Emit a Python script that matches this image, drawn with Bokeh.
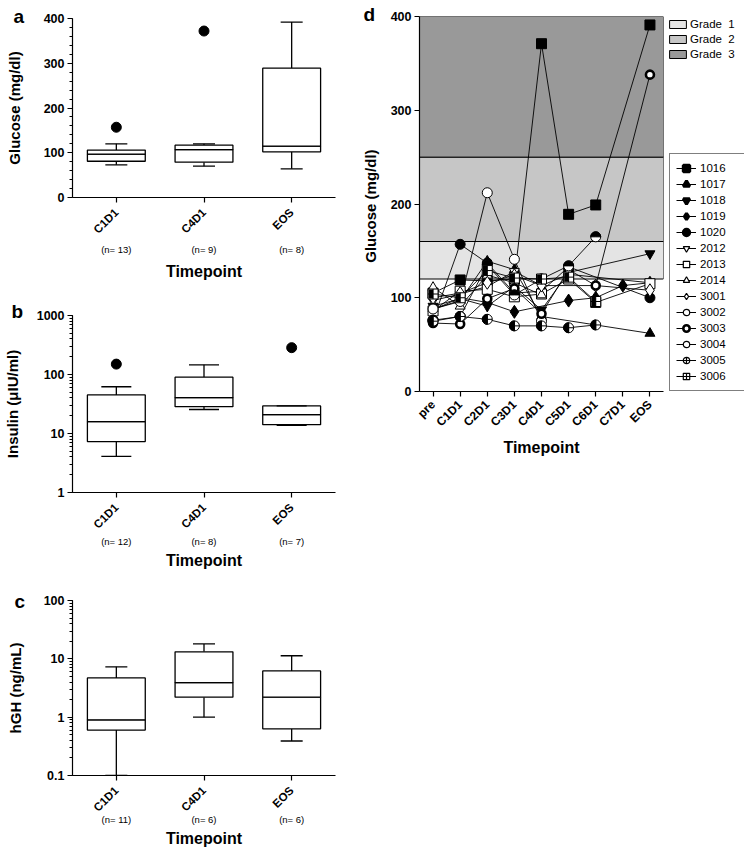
import math
from bokeh.plotting import figure
from bokeh.models import (FactorRange, Range1d, ColumnDataSource, CategoricalAxis, Legend,
                          LegendItem, SingleIntervalTicker, FixedTicker, BasicTickFormatter,
                          CustomJSTickFormatter)
from bokeh.layouts import row, column
from bokeh.transform import dodge
from bokeh.embed import file_html
from bokeh.resources import INLINE

FONT = "Liberation Sans"

# ---------------- data: box plots ----------------
box_cats = ["C1D1", "C4D1", "EOS"]

glu_n = ["(n= 13)", "(n= 9)", "(n= 8)"]
glu_low = [73, 70, 64]
glu_q1 = [81, 79, 102]
glu_med = [97, 107, 115]
glu_q3 = [106, 117, 289]
glu_high = [120, 120, 392]
glu_out_cat = ["C1D1", "C4D1"]
glu_out_val = [157, 372]

ins_n = ["(n= 12)", "(n= 8)", "(n= 7)"]
ins_low = [4.1, 25.5, 13.8]
ins_q1 = [7.3, 28.5, 14.1]
ins_med = [15.9, 40.5, 20.9]
ins_q3 = [45, 90, 29.3]
ins_high = [62, 146, 29.3]
ins_out_cat = ["C1D1", "EOS"]
ins_out_val = [150, 285]

gh_n = ["(n= 11)", "(n= 6)", "(n= 6)"]
gh_low = [0.1, 1.0, 0.39]
gh_q1 = [0.6, 2.2, 0.63]
gh_med = [0.9, 3.9, 2.2]
gh_q3 = [4.7, 13.2, 6.2]
gh_high = [7.3, 18, 11.3]

# ---------------- data: panel d ----------------
nan = float("nan")
timepoints = ["pre", "C1D1", "C2D1", "C3D1", "C4D1", "C5D1", "C6D1", "C7D1", "EOS"]
patients = ["1016", "1017", "1018", "1019", "1020", "2012", "2013", "2014",
            "3001", "3002", "3003", "3004", "3005", "3006"]
g1016 = [105, 119, 118, 120, 371, 189, 199, nan, 391]
g1017 = [88, 97, 139, 130, 80, nan, nan, nan, 62]
g1018 = [91, 99, 91, 112, 87, 127, nan, nan, 147]
g1019 = [87, 100, 95, 85, nan, 97, 100, 113, 116]
g1020 = [76, 157, 137, 105, 107, 133, nan, nan, 100]
g2012 = [97, 104, 112, 128, 113, 125, nan, nan, 116]
g2013 = [86, 107, 109, 101, 104, 120, 95, nan, 115]
g2014 = [111, 91, 124, 116, 103, nan, nan, nan, nan]
g3001 = [100, 105, 116, 124, 113, nan, 113, nan, 108]
g3002 = [88, 96, 212, 141, 75, nan, nan, nan, nan]
g3003 = [73, 72, 99, 110, 83, 130, 113, nan, 338]
g3004 = [76, 80, 135, 103, 120, 134, 165, nan, nan]
g3005 = [75, 80, 77, 70, 70, 68, 71, nan, nan]
g3006 = [104, 100, 129, 121, 120, 122, 96, nan, nan]
series_values = [g1016, g1017, g1018, g1019, g1020, g2012, g2013, g2014,
                 g3001, g3002, g3003, g3004, g3005, g3006]

grade_names = ["Grade  1", "Grade  2", "Grade  3"]
grade_lo = [120, 160, 250]
grade_hi = [160, 250, 400]
grade_colors = ["#e4e4e4", "#c6c6c6", "#999999"]


def style_axes(p, tick_size="12.5px", label_size="15px"):
    for ax in p.axis:
        ax.axis_line_color = "black"
        ax.axis_line_width = 1.2
        ax.major_tick_line_color = "black"
        ax.major_tick_line_width = 1.2
        ax.major_tick_in = 0
        ax.major_tick_out = 5
        ax.minor_tick_line_color = "black"
        ax.minor_tick_in = 0
        ax.minor_tick_out = 3
        ax.major_label_text_font = FONT
        ax.major_label_text_font_style = "bold"
        ax.major_label_text_color = "black"
        ax.major_label_text_font_size = tick_size
        ax.major_label_standoff = 3
        ax.axis_label_text_font = FONT
        ax.axis_label_text_font_style = "bold"
        ax.axis_label_text_color = "black"
        ax.axis_label_text_font_size = label_size


def letter(p, text, offset, standoff):
    """Panel letter as the figure title, pulled down beside the y axis."""
    p.title.text = text
    p.title.align = "left"
    p.title.offset = offset
    p.title.standoff = standoff
    p.title.text_font = FONT
    p.title.text_font_style = "bold"
    p.title.text_font_size = "19px"
    p.title.text_color = "black"


def box_panel(W, H, bl, bt, br, bb, y_range, y_type, low, q1, med, q3, high,
              n_labels, out_cat, out_val, cap, ylabel, ylab_standoff, n_standoff, t_standoff):
    p = figure(width=W, height=H, x_range=FactorRange(factors=box_cats), y_range=y_range,
               y_axis_type=y_type, output_backend="svg", toolbar_location=None,
               min_border_left=bl, min_border_top=bt, min_border_right=br, min_border_bottom=bb)
    p.outline_line_color = None
    p.grid.visible = False
    src = ColumnDataSource(dict(cat=box_cats, low=low, q1=q1, med=med, q3=q3, high=high))
    kw = dict(line_color="black", line_width=1.3)
    p.segment(x0="cat", y0="low", x1="cat", y1="q1", source=src, **kw)
    p.segment(x0="cat", y0="q3", x1="cat", y1="high", source=src, **kw)
    p.vbar(x="cat", width=0.66, bottom="q1", top="med", fill_color="white", source=src, **kw)
    p.vbar(x="cat", width=0.66, bottom="med", top="q3", fill_color="white", source=src, **kw)
    p.scatter(x="cat", y="low", marker="dash", size=cap, source=src, **kw)
    p.scatter(x="cat", y="high", marker="dash", size=cap, source=src, **kw)
    p.scatter(x=out_cat, y=out_val, marker="circle", size=10, fill_color="black", line_color="black")
    p.yaxis.axis_label = ylabel
    p.xaxis.major_label_orientation = math.pi / 4
    ax2 = CategoricalAxis(axis_label="Timepoint",
                          formatter=CustomJSTickFormatter(args=dict(cats=box_cats, labels=n_labels),
                                                          code="return labels[cats.indexOf(tick)];"))
    p.add_layout(ax2, "below")
    style_axes(p)
    p.yaxis.axis_label_standoff = ylab_standoff
    for ax in p.xaxis:
        ax.major_label_text_font_size = "11.5px"
        ax.axis_label_text_font_size = "16px"
        ax.major_label_standoff = 8
    ax2.axis_line_color = None
    ax2.major_tick_line_color = None
    ax2.major_tick_out = 0
    ax2.major_label_text_font_style = "normal"
    ax2.major_label_text_font_size = "9.5px"
    ax2.major_label_standoff = n_standoff
    ax2.axis_label_standoff = t_standoff
    return p


LEFT_W = 358

pa = box_panel(LEFT_W, 290, 68, 18, LEFT_W - 68 - 268, 93, Range1d(0, 400), "linear",
               glu_low, glu_q1, glu_med, glu_q3, glu_high, glu_n, glu_out_cat, glu_out_val,
               22, "Glucose (mg/dl)", 18, 1, 5)
pa.yaxis.ticker = SingleIntervalTicker(interval=100, num_minor_ticks=5)
letter(pa, "a", -59, -16)

pb = box_panel(LEFT_W, 290, 70, 25, LEFT_W - 70 - 273, 88, Range1d(1, 1000), "log",
               ins_low, ins_q1, ins_med, ins_q3, ins_high, ins_n, ins_out_cat, ins_out_val,
               30, "Insulin (\u03bcIU/ml)", 13, -2, 2)
pb.yaxis.formatter = BasicTickFormatter()
letter(pb, "b", -61, -13)

pc = box_panel(LEFT_W, 278, 67, 20, LEFT_W - 67 - 268, 83, Range1d(0.1, 100), "log",
               gh_low, gh_q1, gh_med, gh_q3, gh_high, gh_n, [], [],
               22, "hGH (ng/mL)", 17, -7, 2)
pc.yaxis.formatter = BasicTickFormatter()
letter(pc, "c", -58, -22)

# ---------------- panel d ----------------
D_H = 470
D_BL = 56
D_FH = 375
pd = figure(width=D_BL + 249 + 2, height=D_H, x_range=FactorRange(factors=timepoints),
            y_range=Range1d(0, 400), output_backend="svg", toolbar_location=None,
            min_border_left=D_BL, min_border_top=16, min_border_right=2,
            min_border_bottom=D_H - 16 - D_FH)
pd.outline_line_color = None
pd.grid.visible = False

# legend-only strip to the right of panel d (same data; its view range lies outside the data)
PL_W = 744 - LEFT_W - (D_BL + 249 + 2)
pl = figure(width=PL_W, height=D_H, x_range=pd.x_range, y_range=Range1d(-2, -1),
            output_backend="svg", toolbar_location=None, x_axis_location=None, y_axis_location=None,
            min_border=0)
pl.outline_line_color = None
pl.grid.visible = False

band_items = []
for i, (name, col) in enumerate(zip(grade_names, grade_colors)):
    sub = ColumnDataSource(dict(lo=[grade_lo[i]], hi=[grade_hi[i]]))
    kw = dict(left=0, right=len(timepoints), bottom="lo", top="hi", source=sub,
              fill_color=col, line_color="black", line_width=1)
    pd.quad(**kw)
    band_items.append(LegendItem(label=name, renderers=[pl.quad(**kw)]))

styles = [
    ("square", "black", 1, 10), ("triangle", "black", 1, 10), ("inverted_triangle", "black", 1, 10),
    ("diamond", "black", 1, 13), ("circle", "black", 1, 10), ("inverted_triangle", "white", 1, 10),
    ("square", "white", 1, 10), ("triangle", "white", 1, 10), ("diamond", "white", 1, 13),
    ("circle", "white", 1, 10), ("circle", "white", 2.6, 8), ("circle", "white", 1, 10),
    ("circle_cross", "white", 1, 10), ("square_cross", "white", 1, 10),
]

sources = []
for pid, vals in zip(patients, series_values):
    xs = [t for t, v in zip(timepoints, vals) if not math.isnan(v)]
    ys = [v for v in vals if not math.isnan(v)]
    src = ColumnDataSource(dict(x=xs, y=ys))
    sources.append(src)
    pd.line(x="x", y="y", source=src, line_color="black", line_width=0.9)

items = []
for pid, src, st in zip(patients, sources, styles):
    marker, fill, lw, size = st
    mkw = dict(x="x", y="y", source=src, marker=marker, size=size, fill_color=fill,
               line_color="black", line_width=lw)
    pd.scatter(**mkw)
    if pid == "3004":
        pd.wedge(x="x", y="y", source=src, radius=5, radius_units="screen",
                 start_angle=0, end_angle=math.pi, fill_color="black", line_color="black")
    if pid == "3005":
        pd.wedge(x="x", y="y", source=src, radius=5, radius_units="screen",
                 start_angle=math.pi / 2, end_angle=3 * math.pi / 2, fill_color="black", line_color="black")
    if pid == "3006":
        pd.rect(x=dodge("x", -0.08, range=pd.x_range), y="y", source=src, width=4.5, height=9,
                width_units="screen", height_units="screen", fill_color="black", line_color=None)
    lr = pl.line(x="x", y="y", source=src, line_color="black", line_width=1)
    legend_lw = 3 if fill == "black" else max(lw, 1.2)
    mr = pl.scatter(x="x", y="y", source=src, marker=marker, fill_color=fill,
                    line_color="black", line_width=legend_lw)
    items.append(LegendItem(label=pid, renderers=[lr, mr]))

pd.yaxis.ticker = FixedTicker(ticks=[0, 100, 200, 300, 400])
pd.yaxis.axis_label = "Glucose  (mg/dl)"
pd.xaxis.axis_label = "Timepoint"
pd.xaxis.major_label_orientation = math.pi / 4
style_axes(pd)
pd.yaxis.axis_label_standoff = 9
pd.yaxis.minor_tick_line_color = None
pd.xaxis.major_label_text_font_size = "12px"
pd.xaxis.axis_label_text_font_size = "16px"
pd.xaxis.major_label_standoff = 6
pd.xaxis.axis_label_standoff = 2
letter(pd, "d", -56, -16)

# the legend strip's frame lines up with panel d's frame (same top and bottom)
leg_series = Legend(items=items, location=(4, 0), border_line_color="black", border_line_width=1,
                    background_fill_color="white", background_fill_alpha=1,
                    padding=6, spacing=0, margin=0, label_height=16, glyph_height=16, glyph_width=20,
                    label_width=38, label_standoff=4, label_text_font=FONT, label_text_font_size="11.5px",
                    label_text_color="black")
pl.add_layout(leg_series)
leg_grade = Legend(items=band_items, location=(2, D_FH - 45), border_line_color=None,
                   background_fill_alpha=0, padding=0, spacing=0, margin=0, label_height=15,
                   glyph_height=10, glyph_width=21, label_standoff=2,
                   label_text_font=FONT, label_text_font_size="11.5px", label_text_color="black")
pl.add_layout(leg_grade)

layout = row(column(pa, pb, pc), pd, pl)
open("out.html", "w").write(file_html(layout, INLINE))
